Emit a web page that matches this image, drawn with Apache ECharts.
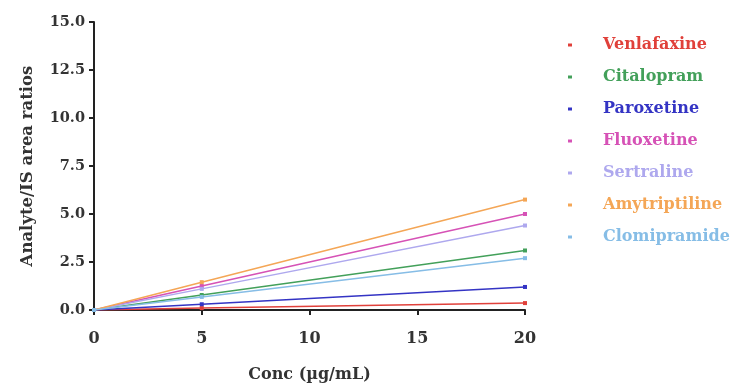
<!DOCTYPE html>
<html><head><meta charset="utf-8">
<script src="https://cdn.jsdelivr.net/npm/echarts@6/dist/echarts.min.js"></script>
<style>html,body{margin:0;padding:0;background:#fff}#c{width:736px;height:386px}</style>
</head><body><div id="c"></div>
<script>
const concentrations = [0, 5, 20];
const seriesNames = ['Venlafaxine','Citalopram','Paroxetine','Fluoxetine','Sertraline','Amytriptiline','Clomipramide'];
const venlafaxine = [0, 0.10, 0.36];
const citalopram = [0, 0.78, 3.1];
const paroxetine = [0, 0.30, 1.2];
const fluoxetine = [0, 1.25, 5.0];
const sertraline = [0, 1.10, 4.4];
const amytriptiline = [0, 1.45, 5.75];
const clomipramide = [0, 0.68, 2.7];
const seriesColors = ['#e0403a','#43a05a','#3434c4','#d652b6','#aea8ee','#f4a656','#86bde6'];
const yTicks = ['0.0','2.5','5.0','7.5','10.0','12.5','15.0'];

const values = [venlafaxine, citalopram, paroxetine, fluoxetine, sertraline, amytriptiline, clomipramide];
const font = 'DejaVu Serif';
const chart = echarts.init(document.getElementById('c'));
chart.setOption({
  animation: false,
  grid: {left: 94, right: 211, top: 22, bottom: 76, outerBoundsMode: 'none', containLabel: false},
  legend: {
    orient: 'vertical', left: 563, top: 32, itemGap: 16,
    icon: 'rect', itemWidth: 4, itemHeight: 3,
    data: seriesNames.map((n, i) => ({name: n, textStyle: {color: seriesColors[i]}})),
    textStyle: {fontFamily: font, fontSize: 16, fontWeight: 'bold', padding: [0, 0, 0, 26]}
  },
  xAxis: {
    type: 'value', min: 0, max: 20, interval: 5,
    name: 'Conc (µg/mL)', nameLocation: 'middle', nameGap: 57,
    nameTextStyle: {fontFamily: font, fontSize: 16, fontWeight: 'bold', color: '#333'},
    axisLine: {lineStyle: {color: '#222', width: 2}},
    axisTick: {show: true, length: 5, lineStyle: {color: '#222', width: 2}},
    axisLabel: {fontFamily: font, fontSize: 16, fontWeight: 'bold', color: '#333', margin: 21},
    splitLine: {show: false}
  },
  yAxis: {
    type: 'value', min: 0, max: 15, interval: 2.5,
    name: 'Analyte/IS area ratios', nameLocation: 'middle', nameGap: 58, nameRotate: 90,
    nameTextStyle: {fontFamily: font, fontSize: 16.5, fontWeight: 'bold', color: '#333'},
    axisLine: {show: true, lineStyle: {color: '#222', width: 2}},
    axisTick: {show: true, length: 5, lineStyle: {color: '#222', width: 2}},
    axisLabel: {fontFamily: font, fontSize: 14.5, fontWeight: 'bold', color: '#333', margin: 9,
      formatter: v => yTicks[Math.round(v / 2.5)]},
    splitLine: {show: false}
  },
  series: seriesNames.map((n, i) => ({
    name: n, type: 'line',
    data: concentrations.map((x, j) => [x, values[i][j]]),
    color: seriesColors[i],
    lineStyle: {width: 1.5},
    symbol: 'rect', symbolSize: 4, showSymbol: true
  }))
});
</script></body></html>
